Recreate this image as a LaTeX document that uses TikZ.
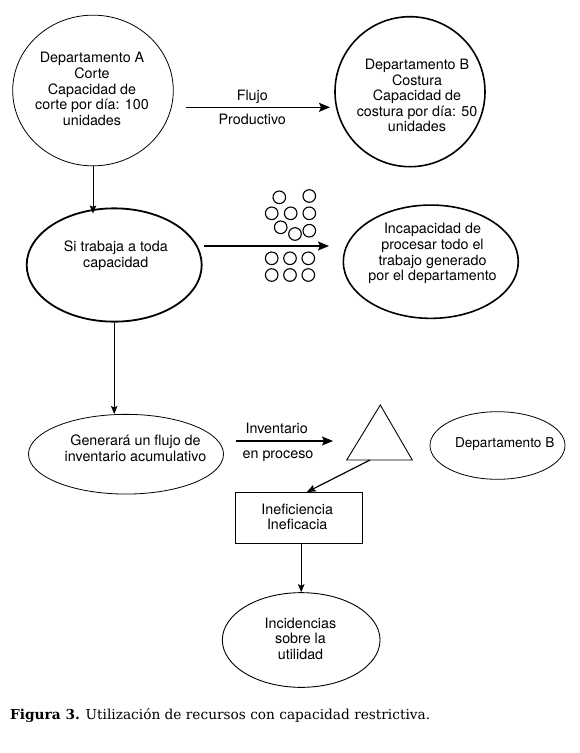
\documentclass[tikz,border=0pt]{standalone}
\usepackage{fontspec}
\usepackage{graphicx}
\setmainfont{TeX Gyre Heros}
\newfontfamily\capfont{DejaVu Serif}
\usetikzlibrary{shapes.geometric,arrows.meta,calc}
\begin{document}
\begin{tikzpicture}[x=1pt,y=-1pt,
  every node/.style={font=\fontsize{14.3}{15.6}\selectfont},
  thinell/.style={draw, ellipse, inner sep=0pt, line width=0.8pt},
  thickell/.style={draw, ellipse, inner sep=0pt, line width=1.6pt},
  txt/.style={align=center, inner sep=0pt},
  lbl/.style={inner sep=0pt, anchor=base},
  arr/.style={-{Stealth[length=11pt,width=9pt,inset=2pt]}, line width=1.5pt},
  varr/.style={-{Stealth[length=8pt,width=6.5pt,inset=1.5pt]}, line width=0.9pt},
  dot/.style={draw, circle, minimum size=12.6pt, inner sep=0pt, line width=1.1pt}
]
\fill[white] (0,0) rectangle (580,753);
\useasboundingbox (0,0) rectangle (580,753);

% top row
\node[thinell, minimum width=160.6, minimum height=150.7] (A) at (93,90.5) {};
\node[txt] (Atxt) at (92,89) {Departamento A\\Corte\\Capacidad de\\corte por día: 100\\unidades};
\node[thickell, minimum width=150, minimum height=150] (B) at (410,91.7) {};
\node[txt] (Btxt) at (417,95.5) {Departamento B\\Costura\\Capacidad de\\costura por día: 50\\unidades};
\coordinate (f1) at (185.7,107.3);
\coordinate (f2) at (330,107.3);
\draw[arr] (f1) -- (f2);
\node[lbl] (flujo) at (252.3,100.4) {Flujo};
\node[lbl] (prod) at (252.3,124.4) {Productivo};

% second row
\node[thickell, line width=1.8pt, minimum width=175, minimum height=113.3] (trab) at (114.2,265) {};
\node[txt] (trabtxt) at (115.8,255.7) {Si trabaja a toda\\capacidad};
\node[thickell, minimum width=175, minimum height=113.3] (incap) at (430.8,261.7) {};
\node[txt] (incaptxt) at (432.5,253.7) {Incapacidad de\\procesar todo el\\trabajo generado\\por el departamento};
\draw[varr, shorten >=-6pt] (A.south) -- (A.south |- trab.north);
\coordinate (s1) at (204,246);
\coordinate (s2) at (329,246);
\draw[arr] (s1) -- (s2);
\node[dot] (c1) at (279.3,197.3) {};
\node[dot] (c2) at (309.3,196) {};
\node[dot] (c3) at (271.7,213.3) {};
\node[dot] (c4) at (290.7,213.3) {};
\node[dot] (c5) at (309.3,213.3) {};
\node[dot] (c6) at (280.7,227.3) {};
\node[dot] (c7) at (295,234) {};
\node[dot] (c8) at (309.3,230.7) {};
\node[dot] (c9) at (271.7,258.3) {};
\node[dot] (c10) at (290,258.3) {};
\node[dot] (c11) at (308.3,258.3) {};
\node[dot] (c12) at (271.7,275) {};
\node[dot] (c13) at (290,275) {};
\node[dot] (c14) at (308.3,275) {};

% third row
\node[thinell, minimum width=195, minimum height=79.7] (gen) at (126,454.2) {};
\node[txt] (gentxt) at (135.5,448.5) {Generará un flujo de\\inventario acumulativo};
\draw[varr] (trab.south) -- (trab.south |- gen.north);
\coordinate (i1) at (236,441);
\coordinate (i2) at (333,441);
\draw[arr, line width=1.4pt] (i1) -- (i2);
\node[lbl] (inv) at (276.7,433.7) {Inventario};
\node[lbl] (enp) at (278,458.7) {en proceso};
\coordinate (triA) at (380.3,405);
\coordinate (triL) at (346.7,460);
\coordinate (triR) at (412.3,460);
\draw[line width=0.9pt, line join=miter] (triA) -- (triR) -- (triL) -- cycle;
\coordinate (tribase) at (370,460);
\node[thinell, minimum width=135, minimum height=67.6] (depB) at (497.5,445.5) {};
\node[lbl, font=\fontsize{13.6}{15}\selectfont] (depBtxt) at (504.7,447) {Departamento B};

% box and bottom
\node[draw, line width=1pt, minimum width=127, minimum height=51.3, inner sep=0pt] (box) at (298.7,518.3) {};
\node[txt] (boxtxt) at (297.2,517) {Ineficiencia\\Ineficacia};
\draw[-{Stealth[length=9pt,width=7pt,inset=1.5pt]}, line width=1.2pt] (tribase) -- ($(box.north)+(8,0)$);
\node[thinell, line width=0.9pt, minimum width=157.7, minimum height=94.7] (incid) at (301.2,640) {};
\node[txt] (incidtxt) at (300.5,638.5) {Incidencias\\sobre la\\utilidad};
\draw[varr] (box.south -| incid.north) -- (incid.north);

% caption
\node[anchor=west, inner sep=0pt] (cap) at (10,716) {\resizebox{420pt}{!}{\capfont\textbf{Figura 3.} Utilización de recursos con capacidad restrictiva.}};
\end{tikzpicture}
\end{document}
